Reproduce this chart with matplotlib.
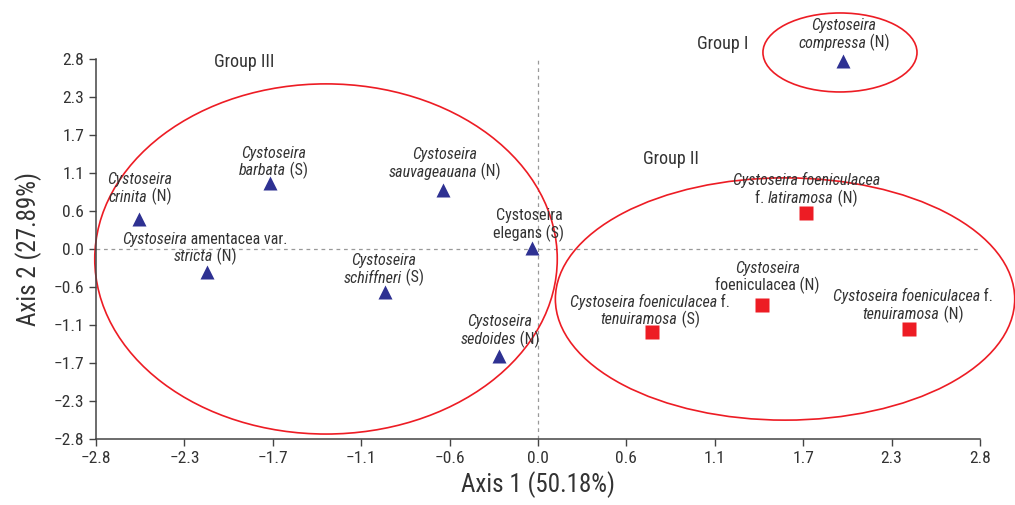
import matplotlib
matplotlib.use('Agg')
import matplotlib.pyplot as plt
from matplotlib.patches import Ellipse
from matplotlib.offsetbox import TextArea, HPacker, VPacker, AnnotationBbox

plt.rcParams['font.family'] = ['Roboto Condensed', 'DejaVu Sans']

# species scores on the two axes
# each label line is a list of (text, italic) pieces
labels = [
    [[('Cystoseira', True)], [('crinita', True), (' (N)', False)]],
    [[('Cystoseira', True)], [('barbata', True), (' (S)', False)]],
    [[('Cystoseira', True)], [('sauvageauana', True), (' (N)', False)]],
    [[('Cystoseira', False)], [('elegans (S)', False)]],
    [[('Cystoseira', True), (' amentacea var.', False)], [('stricta', True), (' (N)', False)]],
    [[('Cystoseira', True)], [('schiffneri', True), (' (S)', False)]],
    [[('Cystoseira', True)], [('sedoides', True), (' (N)', False)]],
    [[('Cystoseira', True)], [('compressa', True), (' (N)', False)]],
    [[('Cystoseira foeniculacea', True)], [('f. ', False), ('latiramosa', True), (' (N)', False)]],
    [[('Cystoseira', True)], [('foeniculacea (N)', False)]],
    [[('Cystoseira foeniculacea', True), (' f.', False)], [('tenuiramosa', True), (' (S)', False)]],
    [[('Cystoseira foeniculacea', True), (' f.', False)], [('tenuiramosa', True), (' (N)', False)]],
]
axis1 = [-2.53, -1.70, -0.60, -0.04, -2.10, -0.97, -0.25, 1.93, 1.70, 1.42, 0.72, 2.35]
axis2 = [0.44, 0.97, 0.87, 0.01, -0.34, -0.63, -1.58, 2.77, 0.53, -0.83, -1.22, -1.18]
marker = ['^'] * 8 + ['s'] * 4

# label offsets from the marker (points)
label_off = [(1, 22), (3, 15), (1, 19), (-2, 17), (-1, 17), (-1, 16),
             (1, 18), (1, 19), (0, 17), (4, 20), (-1, 15), (3, 17)]

# group ellipses: centre x, centre y, width, height
groups = ['Group I', 'Group II', 'Group III']
ell_x = [1.913, 1.565, -1.343]
ell_y = [2.896, -0.737, -0.147]
ell_w = [0.976, 2.91, 2.93]
ell_h = [1.164, 3.57, 5.16]
group_x = [1.17, 0.84, -1.86]
group_y = [3.02, 1.33, 2.76]

ticks = [-2.8 + 0.56 * i for i in range(11)]
tick_labels = ['\u22122.8', '\u22122.3', '\u22121.7', '\u22121.1', '\u22120.6', '0.0',
               '0.6', '1.1', '1.7', '2.3', '2.8']

navy = '#2e3192'
red = '#ed1c24'
txt = '#333333'

fig = plt.figure(figsize=(10.15, 5.05), dpi=100)
ax = fig.add_axes([0.0946, 0.1307, 0.8709, 0.7525])
ax.set_xlim(-2.8, 2.8)
ax.set_ylim(-2.8, 2.8)

ax.axhline(0, color='#999999', lw=0.9, ls=(0, (3, 3)), zorder=1)
ax.axvline(0, color='#999999', lw=0.9, ls=(0, (3, 3)), zorder=1)

for x, y, w, h in zip(ell_x, ell_y, ell_w, ell_h):
    ax.add_patch(Ellipse((x, y), w, h, fill=False, ec=red, lw=1.2, clip_on=False, zorder=2))

for x, y, m in zip(axis1, axis2, marker):
    c = navy if m == '^' else red
    ax.plot(x, y, m, color=c, ms=10 if m == '^' else 9.5, mec='none', clip_on=False, zorder=3)

for x, y, lab, off in zip(axis1, axis2, labels, label_off):
    rows = []
    for line in lab:
        parts = [TextArea(s, textprops=dict(fontsize=11.5, color=txt, style='italic' if it else 'normal'))
                 for s, it in line]
        rows.append(HPacker(children=parts, align='baseline', pad=0, sep=0))
    box = VPacker(children=rows, align='center', pad=0, sep=1)
    ab = AnnotationBbox(box, (x, y), xybox=(off[0], off[1]), boxcoords='offset points',
                        frameon=False, box_alignment=(0.5, 0.5), annotation_clip=False, zorder=4)
    ax.add_artist(ab)

for g, x, y in zip(groups, group_x, group_y):
    ax.text(x, y, g, fontsize=13, color=txt, ha='center', va='center')

for s in ['top', 'right']:
    ax.spines[s].set_visible(False)
for s in ['left', 'bottom']:
    ax.spines[s].set_color('#444444')
    ax.spines[s].set_linewidth(1.1)

ax.set_xticks(ticks)
ax.set_xticklabels(tick_labels)
ax.set_yticks(ticks)
ax.set_yticklabels(tick_labels)
ax.tick_params(direction='out', length=5, width=1, color='#444444', labelsize=12.5, labelcolor=txt)

ax.set_xlabel('Axis 1 (50.18%)', fontsize=18, color=txt, labelpad=4)
ax.set_ylabel('Axis 2 (27.89%)', fontsize=18, color=txt, labelpad=8)

fig.savefig('out.png', dpi=100)
